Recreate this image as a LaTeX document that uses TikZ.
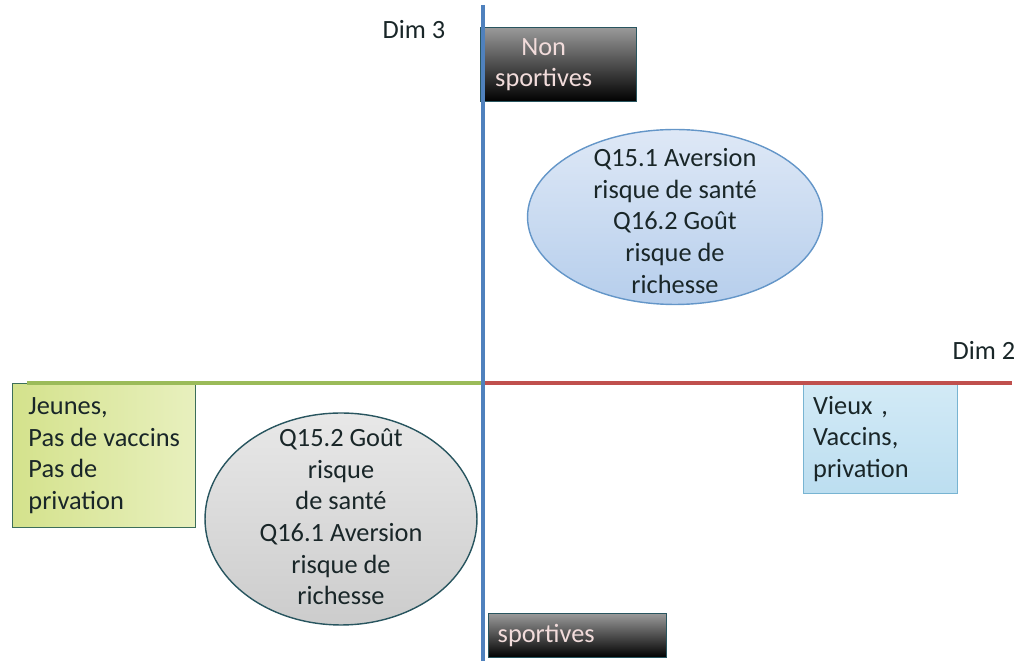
\documentclass[tikz,border=0pt]{standalone}
\usepackage{fontspec}
\setmainfont{Carlito}
\usetikzlibrary{positioning,shapes.geometric}
\definecolor{axisblue}{RGB}{79,129,189}
\definecolor{axisgreen}{RGB}{155,187,89}
\definecolor{axisred}{RGB}{192,80,77}
\definecolor{boxedge}{RGB}{40,85,95}
\definecolor{paletext}{RGB}{242,220,219}
\definecolor{inktext}{RGB}{25,38,40}
\tikzset{lbl/.style={font=\fontsize{15}{18}\selectfont, text=inktext, inner sep=0pt}}
\tikzset{darkbox/.style={draw=boxedge, thick, top color=black!40, bottom color=black, text=paletext, font=\fontsize{15}{18}\selectfont}}
\tikzset{softbox/.style={draw, thick, font=\fontsize{15}{18}\selectfont, text=inktext, align=left}}
\tikzset{oval/.style={ellipse, draw, thick, inner sep=0pt}}
\tikzset{axis/.style={line width=2.6pt}}

\begin{document}
\begin{tikzpicture}[x=0.02cm, y=-0.02cm]
\useasboundingbox (0,0) rectangle (1015,661);
% boxes
\node[darkbox, anchor=north west, minimum width=3.12cm, minimum height=1.48cm, label={[lbl, text=paletext, align=center, xshift=-0.3cm]center:{Non\\sportives}}] (nonsport) at (480,27) {};
\node[darkbox, anchor=north west, minimum width=3.56cm, minimum height=0.88cm, text width=3.2cm, align=left] (sport) at (488,613) {sportives};
\node[softbox, draw={rgb,255:red,60;green,110;blue,90}, left color={rgb,255:red,212;green,226;blue,140}, right color={rgb,255:red,232;green,240;blue,190}, anchor=north west, minimum width=3.66cm, minimum height=2.88cm] (jeunes) at (12,383) {Jeunes,\\Pas de vaccins\\Pas de\\privation};
\node[softbox, draw={rgb,255:red,120;green,180;blue,210}, top color={rgb,255:red,210;green,234;blue,246}, bottom color={rgb,255:red,188;green,222;blue,240}, anchor=north west, minimum width=3.08cm, minimum height=2.2cm, text width=2.7cm] (vieux) at (803,383) {Vieux ,\\Vaccins,\\privation};
% ellipses
\node[oval, draw={rgb,255:red,100;green,150;blue,200}, top color={rgb,255:red,222;green,232;blue,246}, bottom color={rgb,255:red,182;green,206;blue,236}, minimum width=5.9cm, minimum height=3.5cm, label={[lbl, align=center, yshift=-0.08cm]center:{Q15.1 Aversion\\risque de santé\\Q16.2 Goût\\risque de\\richesse}}] (sante) at (675,217) {};
\node[oval, draw=boxedge, top color=black!9, bottom color=black!20, minimum width=5.44cm, minimum height=4.24cm, label={[lbl, align=center, yshift=0.04cm]center:{Q15.2 Goût\\risque\\de santé\\Q16.1 Aversion\\risque de\\richesse}}] (gout) at (341,519) {};
% axes
\coordinate (O) at (483,383);
\coordinate (top) at (483,5);
\coordinate (bot) at (483,661);
\coordinate (west) at (27,383);
\coordinate (east) at (1012,383);
\draw[axis, axisgreen] (west) -- (O);
\draw[axis, axisred] (O) -- (east);
\draw[line width=2pt, axisblue] (top) -- (bot);
\node[lbl] (dim3) at (414,30) {Dim 3};
\node[lbl] (dim2) at (984,350) {Dim 2};
\end{tikzpicture}
\end{document}
